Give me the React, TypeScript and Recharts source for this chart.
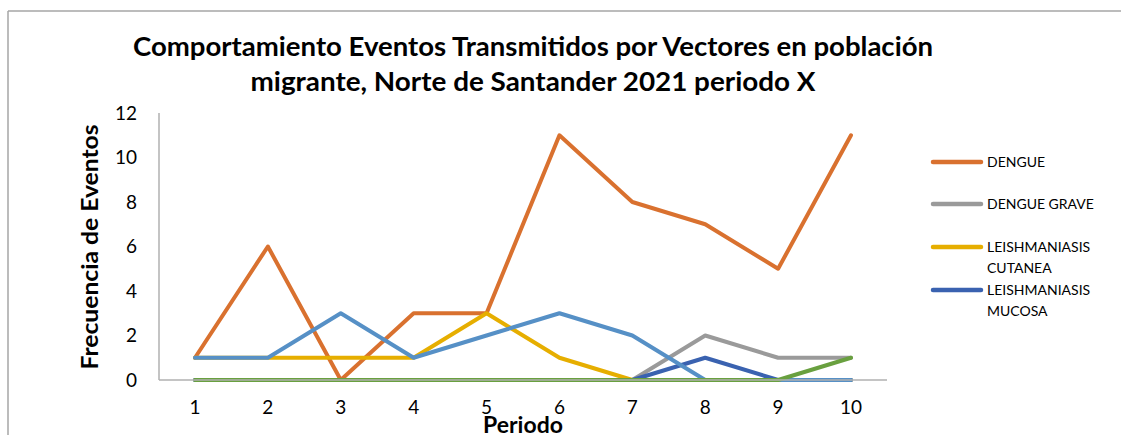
import { LineChart, Line, XAxis, YAxis } from "recharts"

// chart values
const periodos = ["1", "2", "3", "4", "5", "6", "7", "8", "9", "10"]
const dengue = [1, 6, 0, 3, 3, 11, 8, 7, 5, 11]
const dengueGrave = [0, 0, 0, 0, 0, 0, 0, 2, 1, 1]
const leishCutanea = [1, 1, 1, 1, 3, 1, 0, 0, 0, 0]
const leishMucosa = [0, 0, 0, 0, 0, 0, 0, 1, 0, 0]
const serie5 = [1, 1, 3, 1, 2, 3, 2, 0, 0, 0]
const serie6 = [0, 0, 0, 0, 0, 0, 0, 0, 0, 1]
const yTicks = [0, 2, 4, 6, 8, 10, 12]

const series = [
  { key: "dengue", name: "DENGUE", color: "#d9712f", values: dengue, legend: true },
  { key: "grave", name: "DENGUE GRAVE", color: "#9a9a9a", values: dengueGrave, legend: true },
  { key: "cutanea", name: "LEISHMANIASIS CUTANEA", color: "#e6ae00", values: leishCutanea, legend: true },
  { key: "mucosa", name: "LEISHMANIASIS MUCOSA", color: "#3a62b0", values: leishMucosa, legend: true },
  { key: "s5", name: "Serie5", color: "#5690c6", values: serie5, legend: false },
  { key: "s6", name: "Serie6", color: "#69a03f", values: serie6, legend: false },
]

const data = periodos.map((p, i) => {
  const row: Record<string, string | number> = { periodo: p }
  series.forEach((s) => {
    row[s.key] = s.values[i]
  })
  return row
})

const font = "Lato, 'Open Sans', sans-serif"

// legend rows (text lines split like the original wrap)
const legendRows = [
  { y: 162, lines: ["DENGUE"] },
  { y: 204, lines: ["DENGUE GRAVE"] },
  { y: 247, lines: ["LEISHMANIASIS", "CUTANEA"] },
  { y: 290, lines: ["LEISHMANIASIS", "MUCOSA"] },
]

export default function App() {
  return (
    <div style={{ position: "absolute", left: 0, top: 0, width: 1121, height: 435, background: "#fff", overflow: "hidden" }}>
      <LineChart
        width={1121}
        height={435}
        data={data}
        margin={{ top: 113, right: 234, left: 99, bottom: 25 }}
      >
        <XAxis
          dataKey="periodo"
          padding={{ left: 36, right: 36 }}
          tickLine={false}
          tickSize={0}
          tickMargin={21}
          height={30}
          stroke="#b0b0b0"
          strokeWidth={1.5}
          tick={{ fill: "#000", fontSize: 19, fontFamily: font }}
        />
        <YAxis
          domain={[0, 12]}
          ticks={yTicks}
          width={60}
          tickLine={false}
          tickSize={0}
          tickMargin={22}
          stroke="#b0b0b0"
          strokeWidth={1.5}
          tick={{ fill: "#000", fontSize: 19, fontFamily: font }}
        />
        {series.map((s) => (
          <Line
            key={s.key}
            type="linear"
            dataKey={s.key}
            name={s.name}
            stroke={s.color}
            strokeWidth={4}
            strokeLinejoin="round"
            strokeLinecap="round"
            dot={false}
            activeDot={false}
            isAnimationActive={false}
          />
        ))}
      </LineChart>

      <svg
        width={1121}
        height={435}
        style={{ position: "absolute", left: 0, top: 0, pointerEvents: "none" }}
      >
        <line x1={8} y1={11} x2={1121} y2={11} stroke="#a6a6a6" strokeWidth={1.5} />
        <line x1={8} y1={11} x2={8} y2={435} stroke="#a6a6a6" strokeWidth={1.5} />

        <text x={533} y={56} textAnchor="middle" fontFamily={font} fontWeight="bold" fontSize={26} fill="#000"
          textLength={800} lengthAdjust="spacingAndGlyphs">
          Comportamiento Eventos Transmitidos por Vectores en población
        </text>
        <text x={533} y={91} textAnchor="middle" fontFamily={font} fontWeight="bold" fontSize={26} fill="#000"
          textLength={565} lengthAdjust="spacingAndGlyphs">
          migrante, Norte de Santander 2021 periodo X
        </text>

        <text x={0} y={0} transform="translate(98 247) rotate(-90)" textAnchor="middle" fontFamily={font}
          fontWeight="bold" fontSize={23} fill="#000" textLength={245} lengthAdjust="spacingAndGlyphs">
          Frecuencia de Eventos
        </text>
        <text x={523} y={433} textAnchor="middle" fontFamily={font} fontWeight="bold" fontSize={23} fill="#000">
          Periodo
        </text>

        {legendRows.map((r, i) => (
          <g key={i}>
            <line x1={933} y1={r.y} x2={981} y2={r.y} stroke={series[i].color} strokeWidth={4.5} strokeLinecap="round" />
            {r.lines.map((t, j) => (
              <text key={j} x={987} y={r.y + 5 + j * 21} fontFamily={font} fontSize={14} fill="#000">
                {t}
              </text>
            ))}
          </g>
        ))}
      </svg>
    </div>
  )
}
